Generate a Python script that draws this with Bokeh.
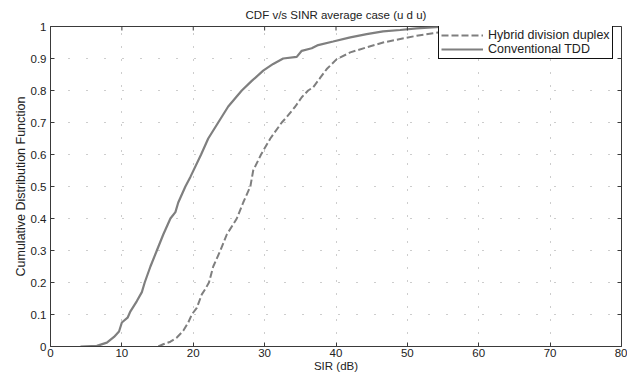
import math
from bokeh.plotting import figure
from bokeh.models import Range1d, FixedTicker, LinearAxis, Legend, LegendItem
from bokeh.embed import file_html
from bokeh.resources import INLINE

# ---- data ----
title_text = "CDF v/s SINR average case (u d u)"
x_label = "SIR (dB)"
y_label = "Cumulative Distribution Function"
series_names = ["Hybrid division duplex", "Conventional TDD"]

x_ticks = [0, 10, 20, 30, 40, 50, 60, 70, 80]
x_tick_labels = ["0", "10", "20", "30", "40", "50", "60", "70", "80"]
y_ticks = [0, 0.1, 0.2, 0.3, 0.4, 0.5, 0.6, 0.7, 0.8, 0.9, 1]
y_tick_labels = ["0", "0.1", "0.2", "0.3", "0.4", "0.5", "0.6", "0.7", "0.8", "0.9", "1"]
y_label_span = [0, 0.78]   # vertical extent over which the y label is centred

hdd_x = [15.1, 15.8, 16.8, 17.7, 18.6, 19.3, 19.8, 20.5, 21.2, 21.7,
         22.2, 22.8, 23.8, 24.7, 26.1, 27.0, 28.0, 28.4, 29.5, 30.8,
         32.4, 33.1, 34.3, 35.2, 36.1, 36.8, 37.8, 38.7, 40.1, 42.0,
         44.3, 46.6, 49.0, 51.3, 53.6, 56.5, 59.7, 64.3, 73.7]
hdd_y = [0, 0.007, 0.015, 0.028, 0.049, 0.075, 0.1, 0.121, 0.163, 0.18,
         0.2, 0.25, 0.3, 0.35, 0.4, 0.45, 0.5, 0.55, 0.6, 0.65,
         0.7, 0.717, 0.75, 0.779, 0.8, 0.81, 0.84, 0.867, 0.898, 0.919,
         0.935, 0.95, 0.961, 0.971, 0.979, 0.988, 0.994, 1.0, 1.0]

tdd_x = [4.2, 6.5, 7.9, 8.9, 9.6, 10.0, 10.8, 11.2, 12.1, 12.8,
         13.2, 14.0, 14.9, 15.8, 16.8, 17.5, 17.9, 18.9, 19.6, 21.1,
         22.1, 23.5, 24.9, 26.8, 28.2, 29.8, 31.2, 32.6, 34.5, 35.2,
         36.6, 37.5, 39.6, 42.0, 44.3, 46.6, 49.0, 51.3, 54.5, 58.0,
         64.0]
tdd_y = [0, 0.002, 0.012, 0.03, 0.047, 0.075, 0.09, 0.11, 0.142, 0.17,
         0.2, 0.25, 0.3, 0.35, 0.4, 0.42, 0.45, 0.5, 0.53, 0.6,
         0.65, 0.7, 0.75, 0.8, 0.83, 0.862, 0.883, 0.9, 0.905, 0.924,
         0.932, 0.942, 0.953, 0.966, 0.976, 0.985, 0.989, 0.994, 0.999, 1.0,
         1.0]

FONT = "Liberation Sans"
LINE_COLOR = "#7f7f7f"
AXIS_COLOR = "#3a3a3a"
TEXT_COLOR = "#222222"
X_MIN, X_MAX = 0, 80
Y_MIN, Y_MAX = 0, 1

p = figure(width=627, height=374, output_backend="svg", toolbar_location=None,
           x_range=Range1d(X_MIN, X_MAX), y_range=Range1d(Y_MIN, Y_MAX),
           min_border_left=50, min_border_right=6, min_border_top=24, min_border_bottom=28)
p.background_fill_color = "white"
p.border_fill_color = "white"
p.outline_line_color = AXIS_COLOR
p.outline_line_width = 1

# title
p.title.text = title_text
p.title.align = "center"
p.title.text_font = FONT
p.title.text_font_style = "normal"
p.title.text_font_size = "11.5px"
p.title.text_color = TEXT_COLOR
p.title.standoff = 12
p.title.offset = 0

# curves
r_h = p.line(hdd_x, hdd_y, line_color=LINE_COLOR, line_width=2, line_dash="7 3")
r_t = p.line(tdd_x, tdd_y, line_color=LINE_COLOR, line_width=2.2)

# axes
def style_axis(ax, ticks, labels):
    ax.ticker = FixedTicker(ticks=ticks)
    ax.major_label_overrides = {t: l for t, l in zip(ticks, labels)}
    ax.major_tick_in = 4
    ax.major_tick_out = 0
    ax.minor_tick_in = 0
    ax.minor_tick_out = 0
    ax.axis_line_color = AXIS_COLOR
    ax.major_tick_line_color = AXIS_COLOR
    ax.major_label_text_font = FONT
    ax.major_label_text_color = TEXT_COLOR
    ax.major_label_text_font_size = "11.5px"
    ax.major_label_standoff = 4

style_axis(p.xaxis[0], x_ticks, x_tick_labels)
style_axis(p.yaxis[0], y_ticks, y_tick_labels)
p.xaxis[0].major_label_standoff = 2
p.xaxis[0].axis_label = x_label
p.xaxis[0].axis_label_text_font = FONT
p.xaxis[0].axis_label_text_font_style = "normal"
p.xaxis[0].axis_label_text_font_size = "11.5px"
p.xaxis[0].axis_label_text_color = TEXT_COLOR
p.xaxis[0].axis_label_standoff = 0

# extra left axis only to carry the y label, centred over its bounds
lab_ax = LinearAxis(ticker=FixedTicker(ticks=[]), bounds=(y_label_span[0], y_label_span[1]))
lab_ax.axis_line_color = None
lab_ax.major_tick_line_color = None
lab_ax.minor_tick_line_color = None
lab_ax.axis_label = y_label
lab_ax.axis_label_text_font = FONT
lab_ax.axis_label_text_font_style = "normal"
lab_ax.axis_label_text_font_size = "12.5px"
lab_ax.axis_label_text_color = TEXT_COLOR
lab_ax.axis_label_standoff = 0
p.add_layout(lab_ax, "left")

# inward ticks on top and right edges
p.ray(x=x_ticks, y=[Y_MAX] * len(x_ticks), length=4, length_units="screen",
      angle=-math.pi / 2, line_color=AXIS_COLOR, line_width=1)
p.ray(x=[X_MAX] * len(y_ticks), y=y_ticks, length=4, length_units="screen",
      angle=math.pi, line_color=AXIS_COLOR, line_width=1)

# grid (dotted)
p.xgrid.ticker = FixedTicker(ticks=x_ticks)
p.ygrid.ticker = FixedTicker(ticks=y_ticks)
p.xgrid.grid_line_color = "#9a9a9a"
p.xgrid.grid_line_dash = "1 12"
p.ygrid.grid_line_color = "#9a9a9a"
p.ygrid.grid_line_dash = "1 17"

# legend
legend = Legend(items=[LegendItem(label=series_names[0], renderers=[r_h]),
                       LegendItem(label=series_names[1], renderers=[r_t])],
                location=(388, 287), orientation="vertical")
legend.padding = 2
legend.spacing = 0
legend.margin = 0
legend.glyph_width = 42
legend.glyph_height = 10
legend.label_height = 10
legend.label_standoff = 5
legend.label_text_font = FONT
legend.label_text_font_size = "12.5px"
legend.label_text_color = TEXT_COLOR
legend.label_text_baseline = "middle"
legend.border_line_color = "#111111"
legend.border_line_alpha = 1.0
legend.border_line_width = 1
legend.background_fill_color = "white"
legend.background_fill_alpha = 1
p.add_layout(legend, "center")

open("out.html", "w").write(file_html(p, INLINE))
